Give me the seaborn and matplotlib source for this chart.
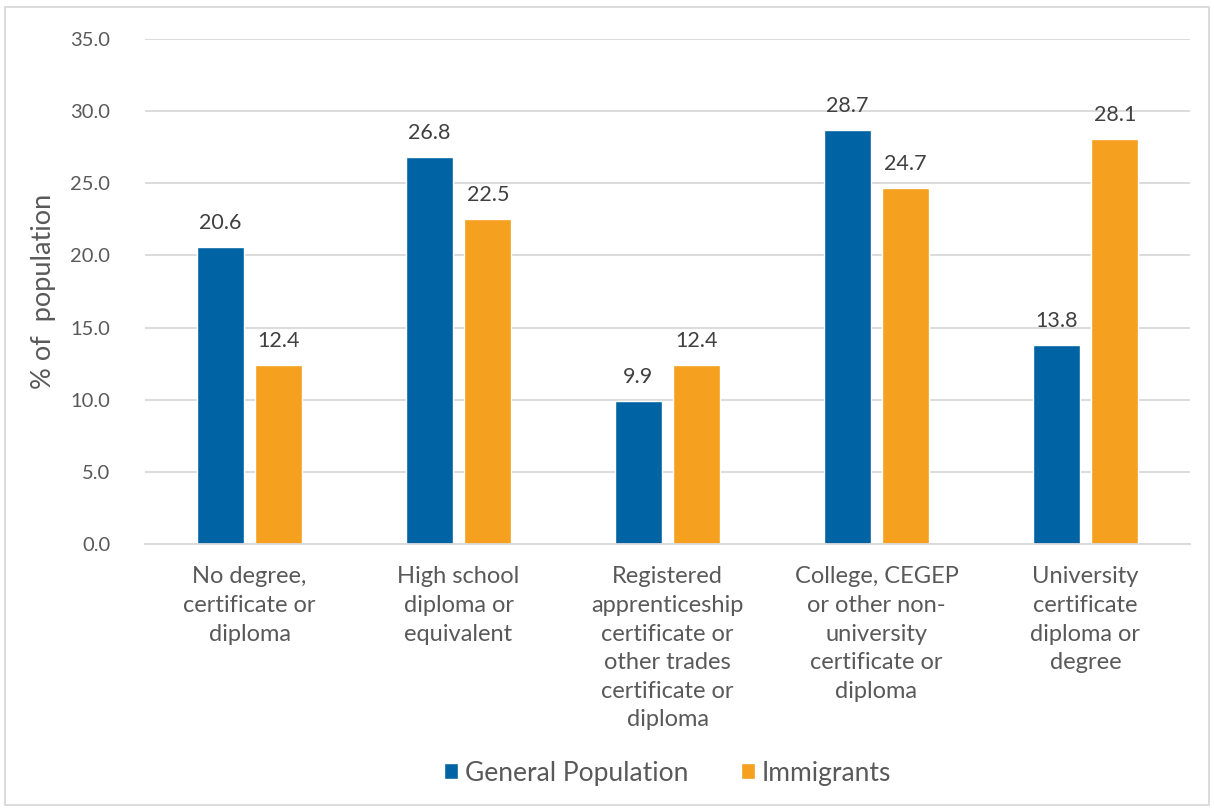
import pandas as pd
import numpy as np
import matplotlib.pyplot as plt
import seaborn as sns
from matplotlib.patches import Rectangle

categories = ['No degree,\ncertificate or\ndiploma',
              'High school\ndiploma or\nequivalent',
              'Registered\napprenticeship\ncertificate or\nother trades\ncertificate or\ndiploma',
              'College, CEGEP\nor other non-\nuniversity\ncertificate or\ndiploma',
              'University\ncertificate\ndiploma or\ndegree']
general = [20.6, 26.8, 9.9, 28.7, 13.8]
immigrants = [12.4, 22.5, 12.4, 24.7, 28.1]
series = ['General Population', 'Immigrants']

df = pd.DataFrame({
    'cat': categories * 2,
    'value': general + immigrants,
    'group': [series[0]] * 5 + [series[1]] * 5,
})

sns.set_style('white')
plt.rcParams['font.family'] = ['Lato', 'DejaVu Sans']
text_col = '#595959'

fig = plt.figure(figsize=(12.14, 8.10), dpi=100)
ax = fig.add_axes([145 / 1214, 1 - 544 / 810, 1045 / 1214, 505 / 810])

sns.barplot(data=df, x='cat', y='value', hue='group',
            palette=['#0063A3', '#F5A01F'], width=0.56, gap=0.2,
            saturation=1, ax=ax)

for c in ax.containers:
    ax.bar_label(c, fmt='%.1f', padding=10, fontsize=15.5, color='#404040')

ax.set_ylim(0, 35)
ax.set_yticks(np.arange(0, 35.1, 5))
ax.set_yticklabels([f'{v:.1f}' for v in np.arange(0, 35.1, 5)],
                   fontsize=14.5, color=text_col)
ax.yaxis.grid(True, color='#d9d9d9', linewidth=1.3)
ax.set_axisbelow(True)
ax.tick_params(axis='y', length=0, pad=25)
ax.tick_params(axis='x', length=0, pad=16)
for lab in ax.get_xticklabels():
    lab.set_fontsize(17)
    lab.set_color(text_col)
    lab.set_linespacing(1.45)
ax.set_xlabel('')
ax.set_ylabel('% of  population', fontsize=19.5, color=text_col, labelpad=10)
for s in ['top', 'right', 'left']:
    ax.spines[s].set_visible(False)
ax.spines['bottom'].set_color('#d9d9d9')
ax.spines['bottom'].set_linewidth(1.3)

ax.legend(loc='center', bbox_to_anchor=(667.5 / 1214, 1 - 773 / 810), bbox_transform=fig.transFigure,
          ncol=2, frameon=False, fontsize=19, handlelength=0.55, handleheight=0.55,
          columnspacing=2.0, handletextpad=0.25, labelcolor=text_col)

fig.patches.append(Rectangle((5 / 1214, 5 / 810), 1204 / 1214, 798 / 810,
                             transform=fig.transFigure, fill=False,
                             edgecolor='#d9d9d9', linewidth=1.3))

fig.savefig('out.png', dpi=100)
